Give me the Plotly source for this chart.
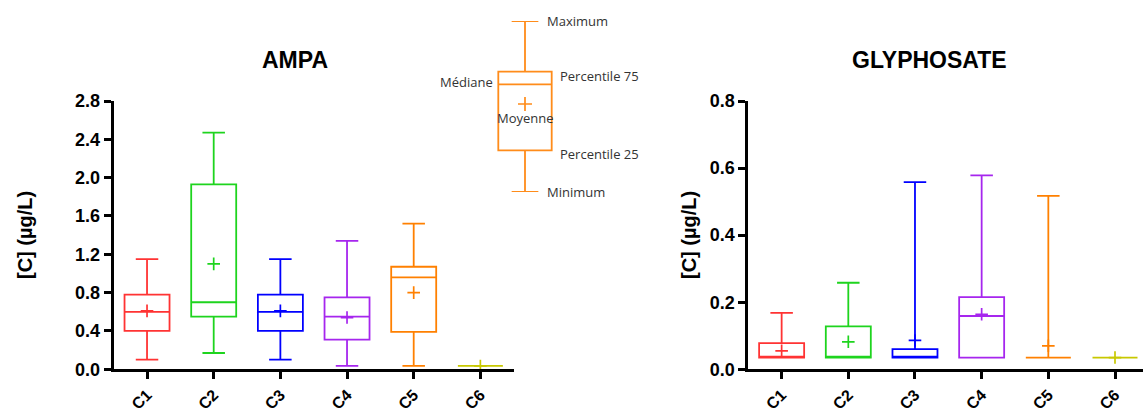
import plotly.graph_objects as go

W, H = 1143, 412

categories = ["C1", "C2", "C3", "C4", "C5", "C6"]
colors = ["#FF3333", "#1ED41E", "#0000FF", "#A626EE", "#FF8000", "#C8C800"]

# AMPA (µg/L)
ampa_min = [0.10, 0.17, 0.10, 0.035, 0.035, 0.035]
ampa_q1 = [0.40, 0.55, 0.40, 0.31, 0.39, 0.035]
ampa_med = [0.60, 0.70, 0.60, 0.55, 0.96, 0.035]
ampa_q3 = [0.78, 1.93, 0.78, 0.75, 1.07, 0.035]
ampa_max = [1.15, 2.47, 1.15, 1.34, 1.52, 0.035]
ampa_mean = [0.61, 1.10, 0.61, 0.54, 0.80, 0.035]

# GLYPHOSATE (µg/L)
gly_min = [0.035, 0.035, 0.035, 0.035, 0.035, 0.035]
gly_q1 = [0.035, 0.035, 0.035, 0.035, 0.035, 0.035]
gly_med = [0.035, 0.035, 0.035, 0.159, 0.035, 0.035]
gly_q3 = [0.078, 0.128, 0.060, 0.215, 0.035, 0.035]
gly_max = [0.168, 0.258, 0.558, 0.578, 0.517, 0.035]
gly_mean = [0.055, 0.082, 0.086, 0.164, 0.070, 0.035]

# explanatory key box (arbitrary units)
key_min, key_q1, key_med, key_q3, key_max, key_mean = 0.0, 4.17, 10.77, 12.03, 17.1, 8.8
key_color = "#FF8C1A"

fig = go.Figure()

BOX_W = 0.675
LW = 1.8


def add_chart(xa, ya, mins, q1s, meds, q3s, maxs, means):
    for i, c in enumerate(categories):
        fig.add_trace(go.Box(
            x=[c], q1=[q1s[i]], median=[meds[i]], q3=[q3s[i]],
            lowerfence=[mins[i]], upperfence=[maxs[i]],
            boxpoints=False, width=BOX_W, whiskerwidth=0.5,
            line=dict(color=colors[i], width=LW),
            fillcolor="rgba(0,0,0,0)", xaxis=xa, yaxis=ya,
            showlegend=False, hoverinfo="skip"))
        fig.add_trace(go.Scatter(
            x=[c], y=[means[i]], mode="markers",
            marker=dict(symbol="cross-thin", size=9,
                        line=dict(color=colors[i], width=1.7)),
            xaxis=xa, yaxis=ya, showlegend=False, hoverinfo="skip"))


add_chart("x", "y", ampa_min, ampa_q1, ampa_med, ampa_q3, ampa_max, ampa_mean)
add_chart("x2", "y2", gly_min, gly_q1, gly_med, gly_q3, gly_max, gly_mean)

# key box
fig.add_trace(go.Box(
    x=[0], q1=[key_q1], median=[key_med], q3=[key_q3],
    lowerfence=[key_min], upperfence=[key_max],
    boxpoints=False, width=53.4 / 80, whiskerwidth=0.5,
    line=dict(color=key_color, width=LW), fillcolor="rgba(0,0,0,0)",
    xaxis="x3", yaxis="y3", showlegend=False, hoverinfo="skip"))
fig.add_trace(go.Scatter(
    x=[0], y=[key_mean], mode="markers",
    marker=dict(symbol="cross-thin", size=10, line=dict(color=key_color, width=1.7)),
    xaxis="x3", yaxis="y3", showlegend=False, hoverinfo="skip"))


def px_x(p):
    return p / W


def px_y(p):
    return (H - p) / H


tick_font = dict(family="Liberation Sans, Arial", size=18, color="black", weight="bold")
xtick_font = dict(family="Liberation Sans, Arial", size=16, color="black", weight="bold")
axis_common = dict(showline=True, linewidth=3, linecolor="black", ticks="outside",
                   ticklen=7, tickwidth=3, tickcolor="black", showgrid=False,
                   zeroline=False, automargin=False)

y_dom = [px_y(369.3), px_y(101)]
fig.update_layout(
    template="none",
    width=W, height=H,
    margin=dict(l=0, r=0, t=0, b=0, pad=0),
    paper_bgcolor="white", plot_bgcolor="rgba(0,0,0,0)",
    boxmode="overlay", showlegend=False,
    xaxis=dict(domain=[px_x(113.7), px_x(513.7)], type="category",
               categoryorder="array", categoryarray=categories,
               range=[-0.5, 5.5], tickangle=-45, anchor="y", tickfont=xtick_font,
               **axis_common),
    yaxis=dict(domain=y_dom, range=[0, 2.8], dtick=0.4, tickformat=".1f",
               anchor="x", tickfont=tick_font, **axis_common),
    xaxis2=dict(domain=[px_x(748.3), 1.0], type="category",
                categoryorder="array", categoryarray=categories,
                range=[-0.5, 5.42], tickangle=-45, anchor="y2", tickfont=xtick_font,
                **axis_common),
    yaxis2=dict(domain=y_dom, range=[0, 0.8], dtick=0.2, tickformat=".1f",
                anchor="x2", tickfont=tick_font, **axis_common),
    xaxis3=dict(domain=[px_x(485), px_x(565)], range=[-0.5, 0.5], visible=False,
                anchor="y3", automargin=False),
    yaxis3=dict(domain=[px_y(192), px_y(21)], range=[key_min, key_max], visible=False,
                anchor="x3", automargin=False),
)

title_font = dict(family="Liberation Sans, Arial", size=23, color="black", weight="bold")
ytitle_font = dict(family="Liberation Sans, Arial", size=20, color="black", weight="bold")
ann = [
    dict(text="AMPA", x=px_x(295), y=px_y(60), xref="paper", yref="paper",
         showarrow=False, font=title_font, xanchor="center", yanchor="middle"),
    dict(text="GLYPHOSATE", x=px_x(929), y=px_y(60), xref="paper", yref="paper",
         showarrow=False, font=title_font, xanchor="center", yanchor="middle"),
    dict(text="[C] (µg/L)", x=px_x(25), y=px_y(235), xref="paper", yref="paper",
         showarrow=False, font=ytitle_font, textangle=-90, xanchor="center", yanchor="middle"),
    dict(text="[C] (µg/L)", x=px_x(689), y=px_y(235), xref="paper", yref="paper",
         showarrow=False, font=ytitle_font, textangle=-90, xanchor="center", yanchor="middle"),
]
key_font = dict(family="Open Sans, Noto Sans", size=13, color="#333333")
key_labels = [
    ("Maximum", 0.25, key_max, "left"),
    ("Percentile 75", 0.41, key_q3 - 0.4, "left"),
    ("Médiane", -0.37, key_med + 0.2, "right"),
    ("Moyenne", 0.0, key_mean - 1.4, "center"),
    ("Percentile 25", 0.41, key_q1 - 0.35, "left"),
    ("Minimum", 0.25, key_min, "left"),
]
for t, xx, yy, xa in key_labels:
    ann.append(dict(text=t, x=xx, y=yy, xref="x3", yref="y3", showarrow=False,
                    font=key_font, xanchor=xa, yanchor="middle"))
fig.update_layout(annotations=ann)

fig.write_html(
    "out.html",
    config={"displayModeBar": False},
    post_script="document.body.style.margin='0px';document.body.style.overflow='hidden';",
)
